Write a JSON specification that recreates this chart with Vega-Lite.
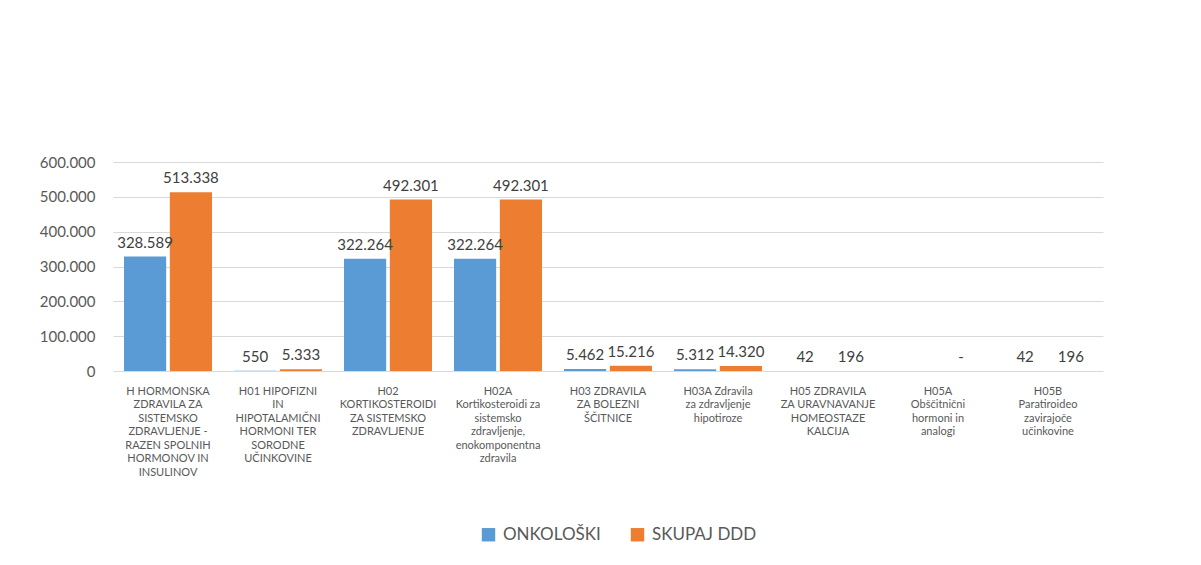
{
  "$schema": "https://vega.github.io/schema/vega-lite/v6.json",
  "width": 990,
  "height": 209,
  "autosize": {"type": "none"},
  "padding": {"left": 113, "top": 162, "right": 98, "bottom": 194},
  "background": "white",
  "config": {
    "font": "Lato",
    "view": {"stroke": null},
    "locale": {"number": {"decimal": ",", "thousands": ".", "grouping": [3], "currency": ["", " €"]}}
  },
  "data": {
    "values": [
      {"cat": "H HORMONSKA|ZDRAVILA ZA|SISTEMSKO|ZDRAVLJENJE -|RAZEN SPOLNIH|HORMONOV IN|INSULINOV", "series": "ONKOLOŠKI", "value": 328589},
      {"cat": "H HORMONSKA|ZDRAVILA ZA|SISTEMSKO|ZDRAVLJENJE -|RAZEN SPOLNIH|HORMONOV IN|INSULINOV", "series": "SKUPAJ DDD", "value": 513338},
      {"cat": "H01 HIPOFIZNI|IN|HIPOTALAMIČNI|HORMONI TER|SORODNE|UČINKOVINE", "series": "ONKOLOŠKI", "value": 550},
      {"cat": "H01 HIPOFIZNI|IN|HIPOTALAMIČNI|HORMONI TER|SORODNE|UČINKOVINE", "series": "SKUPAJ DDD", "value": 5333},
      {"cat": "H02|KORTIKOSTEROIDI|ZA SISTEMSKO|ZDRAVLJENJE", "series": "ONKOLOŠKI", "value": 322264},
      {"cat": "H02|KORTIKOSTEROIDI|ZA SISTEMSKO|ZDRAVLJENJE", "series": "SKUPAJ DDD", "value": 492301},
      {"cat": "H02A|Kortikosteroidi za|sistemsko|zdravljenje,|enokomponentna|zdravila", "series": "ONKOLOŠKI", "value": 322264},
      {"cat": "H02A|Kortikosteroidi za|sistemsko|zdravljenje,|enokomponentna|zdravila", "series": "SKUPAJ DDD", "value": 492301},
      {"cat": "H03 ZDRAVILA|ZA BOLEZNI|ŠČITNICE", "series": "ONKOLOŠKI", "value": 5462},
      {"cat": "H03 ZDRAVILA|ZA BOLEZNI|ŠČITNICE", "series": "SKUPAJ DDD", "value": 15216},
      {"cat": "H03A Zdravila|za zdravljenje|hipotiroze", "series": "ONKOLOŠKI", "value": 5312},
      {"cat": "H03A Zdravila|za zdravljenje|hipotiroze", "series": "SKUPAJ DDD", "value": 14320},
      {"cat": "H05 ZDRAVILA|ZA URAVNAVANJE|HOMEOSTAZE|KALCIJA", "series": "ONKOLOŠKI", "value": 42},
      {"cat": "H05 ZDRAVILA|ZA URAVNAVANJE|HOMEOSTAZE|KALCIJA", "series": "SKUPAJ DDD", "value": 196},
      {"cat": "H05A|Obščitnični|hormoni in|analogi", "series": "SKUPAJ DDD", "value": 0},
      {"cat": "H05B|Paratiroideo|zavirajoče|učinkovine", "series": "ONKOLOŠKI", "value": 42},
      {"cat": "H05B|Paratiroideo|zavirajoče|učinkovine", "series": "SKUPAJ DDD", "value": 196}
    ]
  },
  "encoding": {
    "x": {
      "field": "cat", "type": "nominal", "sort": null,
      "scale": {"paddingInner": 0.2, "paddingOuter": 0.1},
      "axis": {
        "title": null, "labelAngle": 0, "domain": false, "ticks": false,
        "labelExpr": "split(datum.label, '|')",
        "labelFontSize": 11, "labelColor": "#595959", "labelLineHeight": 13.5,
        "labelPadding": 14, "labelBaseline": "top", "labelLimit": 200
      }
    },
    "xOffset": {"field": "series", "type": "nominal", "scale": {"paddingInner": 0.08}},
    "y": {
      "field": "value", "type": "quantitative",
      "scale": {"domain": [0, 600000], "nice": false},
      "axis": {
        "title": null, "values": [0, 100000, 200000, 300000, 400000, 500000, 600000],
        "format": ",.0f", "domain": false, "ticks": false,
        "labelFontSize": 15, "labelColor": "#595959", "labelPadding": 18,
        "gridColor": "#d9d9d9", "gridWidth": 1
      }
    },
    "color": {
      "field": "series", "type": "nominal",
      "scale": {"domain": ["ONKOLOŠKI", "SKUPAJ DDD"], "range": ["#5b9bd5", "#ed7d31"]},
      "legend": {
        "title": null, "orient": "none", "direction": "horizontal",
        "legendX": 367, "legendY": 364,
        "symbolType": "square", "symbolSize": 180, "symbolStrokeWidth": 0,
        "labelFontSize": 17, "labelColor": "#595959", "columnPadding": 28, "labelOffset": 6
      }
    }
  },
  "layer": [
    {"mark": {"type": "bar"}},
    {
      "mark": {"type": "text", "baseline": "bottom", "dy": -6, "fontSize": 15, "color": "#404040"},
      "encoding": {
        "text": {"condition": {"test": "datum.value === 0", "value": "-"}, "field": "value", "type": "quantitative", "format": ",.0f"},
        "color": {"value": "#404040"}
      }
    }
  ]
}
